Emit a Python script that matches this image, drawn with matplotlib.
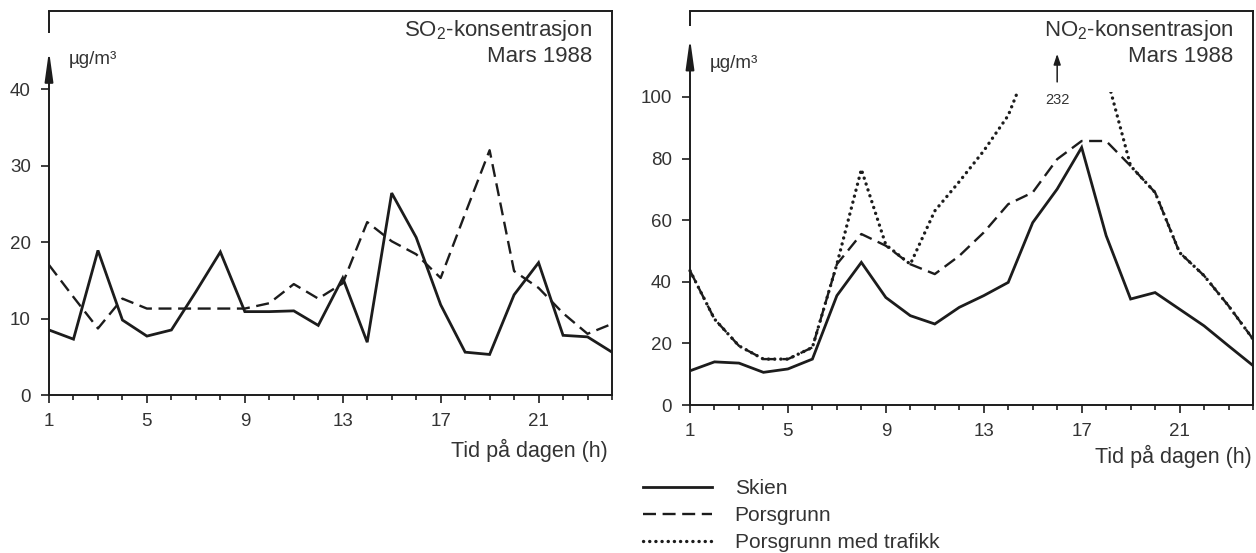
import numpy as np
import matplotlib
matplotlib.use("Agg")
import matplotlib.pyplot as plt
from matplotlib.lines import Line2D
from matplotlib.patches import Rectangle
import matplotlib.transforms as mtransforms

plt.rcParams['font.family'] = ['Liberation Sans', 'DejaVu Sans']
plt.rcParams['mathtext.fontset'] = 'custom'
plt.rcParams['mathtext.rm'] = 'Liberation Sans'
plt.rcParams['mathtext.it'] = 'Liberation Sans'

INK = '#1c1c1c'
TXT = '#333333'

hours = list(range(1, 25))
hour_ticks = [1, 5, 9, 13, 17, 21]

# SO2, µg/m3
so2_skien = [8.5, 7.3, 18.9, 9.8, 7.7, 8.5, 13.5, 18.7, 10.9, 10.9, 11.0, 9.1,
             15.3, 6.9, 26.4, 20.6, 11.8, 5.6, 5.3, 13.1, 17.3, 7.8, 7.6, 5.6]
so2_porsgrunn = [17.0, 12.8, 8.7, 12.6, 11.3, 11.3, 11.3, 11.3, 11.3, 12.0, 14.5, 12.6,
                 14.6, 22.6, 20.1, 18.4, 15.3, 23.7, 32.0, 16.2, 14.0, 10.7, 8.0, 9.3]

# NO2, µg/m3
no2_skien = [11.1, 14.0, 13.6, 10.6, 11.7, 14.9, 35.5, 46.3, 34.9, 29.0, 26.3, 31.7,
             35.5, 39.8, 59.2, 70.1, 83.6, 55.0, 34.4, 36.5, 31.1, 25.7, 19.2, 12.8]
no2_porsgrunn = [43.6, 27.9, 19.2, 14.9, 14.9, 18.7, 45.7, 55.5, 51.7, 45.7, 42.5, 48.4,
                 56.0, 65.2, 69.0, 79.8, 85.7, 85.7, 77.6, 69.0, 49.5, 42.0, 32.2, 21.4]
no2_trafikk = [43.6, 27.9, 19.2, 14.9, 14.9, 18.7, 45.7, 76.5, 52.0, 45.7, 63.0, 72.5,
               82.5, 94.0, 114.0, 232.0, np.nan, 107.4, 77.6, 69.0, 49.5, 42.0, 32.2, 21.4]
trafikk_cut = 101.5  # traffic curve is cut off above this level


def style_axes(ax, ymax, yticks, arrow_top):
    ax.set_xlim(1, 24)
    ax.set_ylim(0, ymax)
    ax.set_xticks(hour_ticks)
    ax.set_xticks(hours, minor=True)
    ax.set_yticks(yticks)
    ax.tick_params(axis='both', which='major', direction='out', length=6, width=1.2,
                   color=INK, labelcolor=TXT, labelsize=13.5, pad=7)
    ax.tick_params(axis='x', which='minor', direction='out', length=3.5, width=1.2, color=INK)
    for s in ['top', 'right', 'bottom']:
        ax.spines[s].set_color(INK)
        ax.spines[s].set_linewidth(1.4)
    ax.spines['left'].set_visible(False)
    trans = mtransforms.blended_transform_factory(ax.transAxes, ax.transData)
    # y axis drawn as an arrow, with a short piece of frame above it
    ax.annotate('', xy=(0, arrow_top), xycoords=trans, xytext=(0, 0), textcoords=trans,
                arrowprops=dict(arrowstyle='-|>,head_length=1.8,head_width=0.25',
                                lw=1.4, color=INK, shrinkA=0, shrinkB=0),
                annotation_clip=False)
    ax.plot([0, 0], [ymax, ymax - (ymax - arrow_top) * 0.55], transform=trans,
            color=INK, lw=1.4, clip_on=False, solid_capstyle='butt')


fig = plt.figure(figsize=(12.56, 5.53), dpi=100)
ax1 = fig.add_axes([49 / 1256, 1 - 395 / 553, (612 - 49) / 1256, (395 - 11) / 553])
ax2 = fig.add_axes([690 / 1256, 1 - 405 / 553, (1253 - 690) / 1256, (405 - 11) / 553])

solid = dict(color=INK, lw=2.0, solid_joinstyle='miter')
dashed = dict(color=INK, lw=1.7, linestyle=(0, (5.5, 2.8)))
dotted = dict(color=INK, lw=2.4, linestyle=(0, (0.05, 1.8)), dash_capstyle='round')

# SO2 panel
ax1.plot(hours, so2_skien, **solid)
ax1.plot(hours, so2_porsgrunn, **dashed)
style_axes(ax1, 50.2, [0, 10, 20, 30, 40], 45.0)
ax1.text(1.8, 43.8, 'µg/m³', fontsize=13.5, color=TXT, va='center', ha='left')
ax1.text(0.965, 0.982, 'SO$_2$-konsentrasjon\nMars 1988', transform=ax1.transAxes,
         ha='right', va='top', fontsize=16, color=TXT, linespacing=1.2)
ax1.annotate('Tid på dagen (h)', xy=(1, 0), xycoords='axes fraction', xytext=(-3, -40),
             textcoords='offset points', ha='right', va='center', fontsize=15.5, color=TXT)

# NO2 panel
ax2.plot(hours, no2_skien, **solid)
ax2.plot(hours, no2_porsgrunn, **dashed)
trafikk_line, = ax2.plot(hours, no2_trafikk, **dotted)
trafikk_line.set_clip_path(Rectangle((0, 0), 30, trafikk_cut, transform=ax2.transData))
style_axes(ax2, 127.9, [0, 20, 40, 60, 80, 100], 119)
ax2.text(1.8, 111, 'µg/m³', fontsize=13.5, color=TXT, va='center', ha='left')
ax2.text(0.965, 0.982, 'NO$_2$-konsentrasjon\nMars 1988', transform=ax2.transAxes,
         ha='right', va='top', fontsize=16, color=TXT, linespacing=1.2)
peak = int(np.nanargmax(no2_trafikk))
ax2.annotate(f'{no2_trafikk[peak]:.0f}', xy=(hours[peak], 114), xytext=(hours[peak], 99),
             ha='center', va='center', fontsize=10.5, color=TXT,
             arrowprops=dict(arrowstyle='-|>,head_length=0.6,head_width=0.2', lw=1.1,
                             color=INK, shrinkA=6, shrinkB=0))
ax2.annotate('Tid på dagen (h)', xy=(1, 0), xycoords='axes fraction', xytext=(-1, -37),
             textcoords='offset points', ha='right', va='center', fontsize=15.5, color=TXT)

handles = [Line2D([], [], **solid), Line2D([], [], **dashed), Line2D([], [], **dotted)]
labels = ['Skien', 'Porsgrunn', 'Porsgrunn med trafikk']
fig.legend(handles, labels, loc='upper left', bbox_to_anchor=(643 / 1256, 1 - 479 / 553),
           frameon=False, fontsize=15, handlelength=3.3, handletextpad=1.1,
           labelspacing=0.38, borderpad=0, borderaxespad=0, labelcolor=TXT)

fig.savefig('out.png', dpi=100, facecolor='white')
